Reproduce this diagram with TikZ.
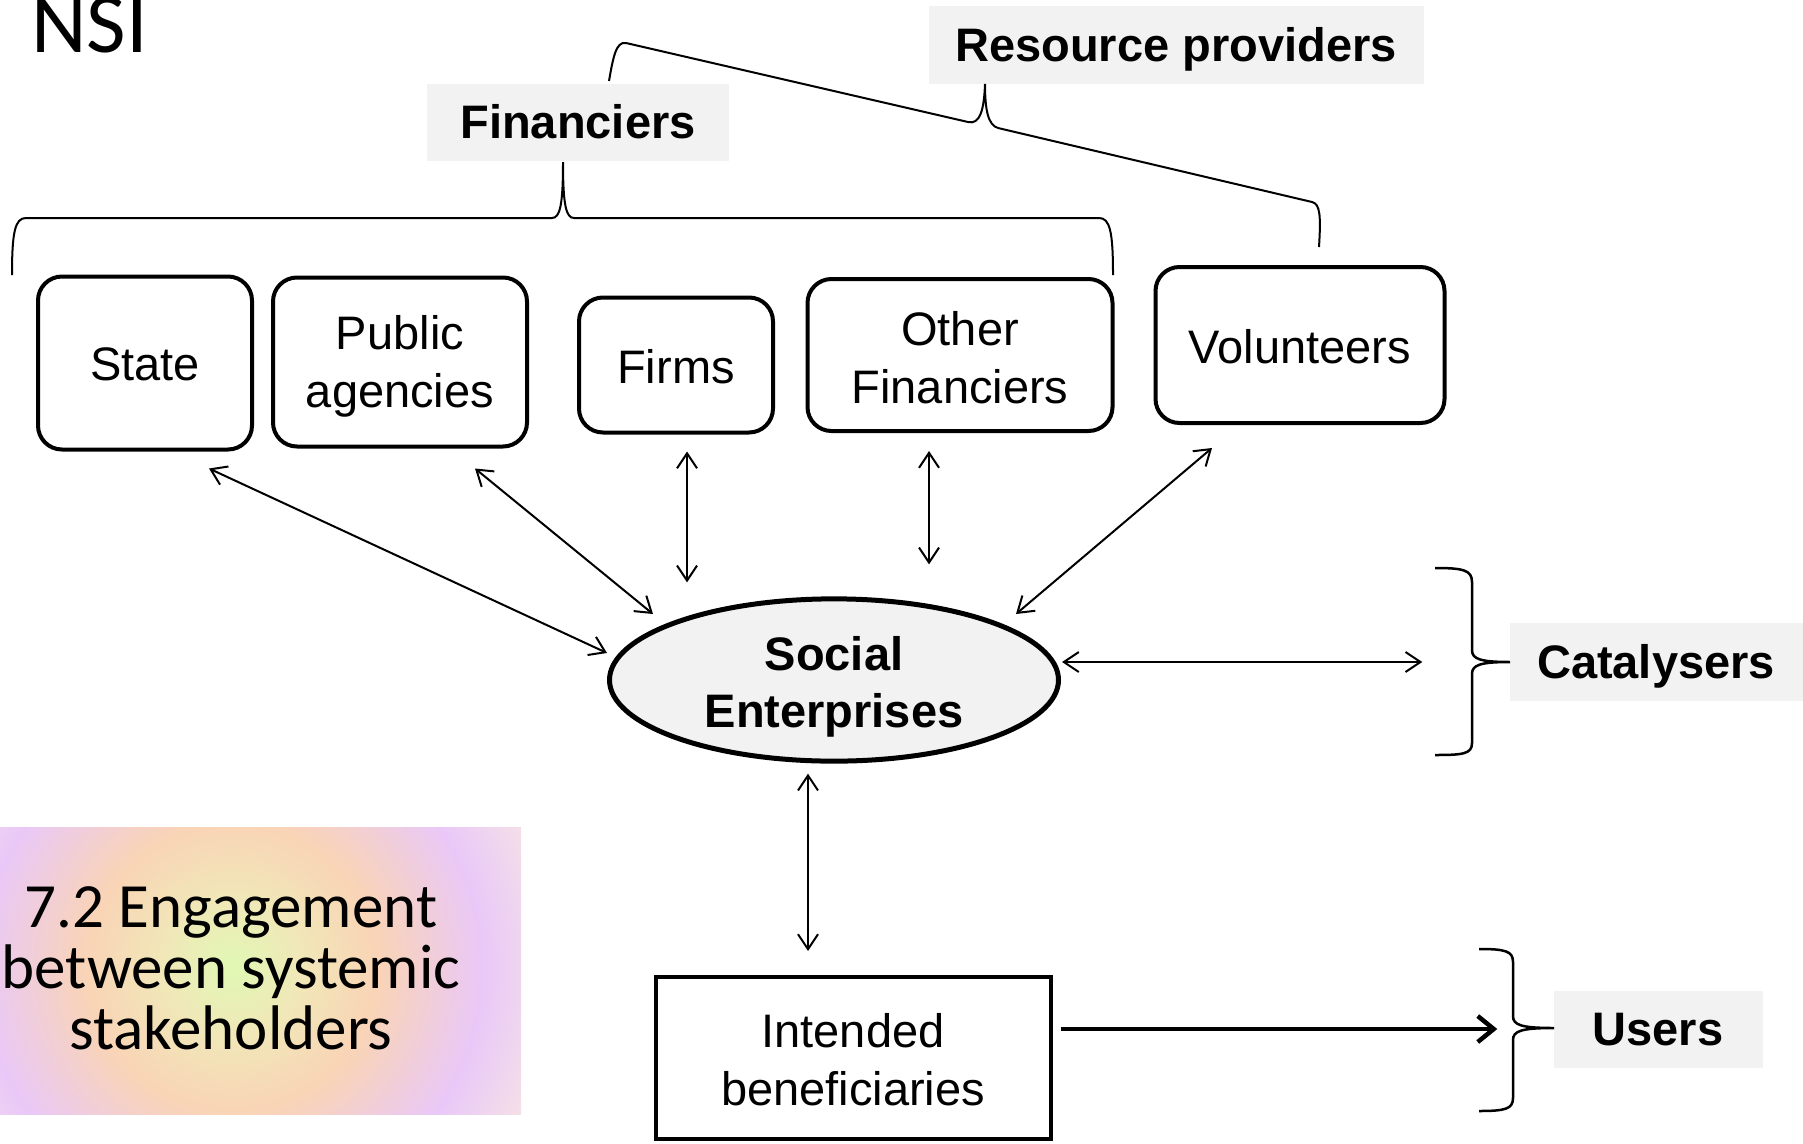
\documentclass[tikz,border=0pt]{standalone}
\usepackage{fontspec}
\setmainfont{Liberation Sans}
\newfontfamily\calibri{Carlito}
\usetikzlibrary{arrows.meta,shapes.geometric,calc}
\definecolor{lgray}{HTML}{F2F2F2}
\definecolor{gcenter}{HTML}{E0F8B4}
\definecolor{gyellow}{HTML}{F0E8B8}
\definecolor{gpeach}{HTML}{F9D4B6}
\definecolor{glav}{HTML}{E9C8F8}
\definecolor{gpink}{HTML}{F6E2E6}
\pgfdeclareradialshading{engshade}{\pgfpoint{0bp}{0bp}}{color(0bp)=(gcenter); color(5bp)=(gyellow); color(11bp)=(gpeach); color(19bp)=(glav); color(25bp)=(gpink); color(50bp)=(gpink)}
\tikzset{
  txt/.style={font=\fontsize{47}{58}\selectfont, align=center},
  rbox/.style={txt, draw, line width=4pt, rounded corners=24pt, inner sep=0pt},
  lbl/.style={fill=lgray, font=\bfseries\fontsize{47}{57}\selectfont, inner sep=0pt, text height=33pt, text depth=0pt},
  biarrow/.style={line width=2pt, {Straight Barb[length=15pt,width=20pt]}-{Straight Barb[length=15pt,width=20pt]}},
  thickarrow/.style={line width=4.5pt, -{Straight Barb[length=16pt,width=26pt]}},
  bracepath/.style={line width=2pt},
  bracepathb/.style={line width=2.5pt},
}
\begin{document}
\begin{tikzpicture}[x=1pt,y=-1pt]
\useasboundingbox (0,0) rectangle (1803,1143);

% title
\node[font=\calibri\fontsize{86}{94}\selectfont, anchor=base west, inner sep=0pt] (nsi) at (31,52) {NSI};

% gradient panel
\begin{scope}
\clip (0,827) rectangle (521,1114);
\shade[shading=engshade] (232,967) circle[radius=330pt];
\end{scope}
\node[font=\calibri\fontsize{63}{61}\selectfont, align=center, inner sep=0pt] (eng) at (231,968) {7.2 Engagement\\between systemic\\stakeholders};

% stakeholder boxes
\node[rbox, minimum width=214pt, minimum height=173pt] (state) at (145,363) {\rule{0pt}{36pt}State};
\node[rbox, minimum width=254pt, minimum height=169pt] (public) at (400,362) {\rule{0pt}{42pt}Public\\agencies};
\node[rbox, minimum width=194pt, minimum height=135pt] (firms) at (676,365) {\rule{0pt}{38pt}Firms};
\node[rbox, minimum width=305pt, minimum height=152pt] (other) at (960,355) {\rule{0pt}{40pt}Other\\Financiers};
\node[rbox, minimum width=289pt, minimum height=156pt] (vol) at (1300,345) {\rule{0pt}{38pt}Volunteers};

\node[ellipse, draw, fill=lgray, line width=5pt, minimum width=449pt, minimum height=161pt, inner sep=0pt, align=center, font=\bfseries\fontsize{47}{57}\selectfont] (se) at (834,680) {\rule{0pt}{48pt}Social\\Enterprises};

\node[draw, line width=4pt, minimum width=395pt, minimum height=162pt, txt, inner sep=0pt] (ib) at (853,1058) {\rule{0pt}{38pt}Intended\\beneficiaries};

% group labels
\node[lbl, minimum width=302pt, minimum height=77pt] (fin) at (578,122) {Financiers};
\node[lbl, minimum width=495pt, minimum height=78pt] (res) at (1176,45) {Resource providers};
\node[lbl, minimum width=293pt, minimum height=78pt] (cat) at (1656,662) {Catalysers};
\node[lbl, minimum width=209pt, minimum height=77pt] (users) at (1658,1029) {Users};

% braces
\draw[bracepath] (12,275) .. controls (12,232) and (15,218) .. (26,218) -- (552,218) .. controls (560,218) and (563,205) .. (563,162) .. controls (563,205) and (566,218) .. (574,218) -- (1099,218) .. controls (1110,218) and (1113,232) .. (1113,275);
\draw[bracepath] (609,81) .. controls (613,58) and (616,41) .. (626,43) -- (968,122) .. controls (980,125) and (984,110) .. (985,84) .. controls (985,110) and (988,125) .. (998,128) -- (1312,202) .. controls (1320,204) and (1321,215) .. (1319,247);
\draw[bracepathb] (1435,568) .. controls (1463,568) and (1472,570) .. (1472,582) -- (1472,650) .. controls (1472,659) and (1480,662) .. (1510,662) .. controls (1480,662) and (1472,665) .. (1472,674) -- (1472,743) .. controls (1472,754) and (1463,755) .. (1435,755);
\draw[bracepathb] (1479,949) .. controls (1505,949) and (1513,951) .. (1513,962) -- (1513,1016) .. controls (1513,1025) and (1521,1028) .. (1554,1028) .. controls (1521,1028) and (1513,1031) .. (1513,1040) -- (1513,1098) .. controls (1513,1109) and (1505,1111) .. (1479,1111);

% connectors
\draw[biarrow] ($(state.south)+(64,17)$) -- ($(se.west)+(0,-27)$);
\draw[biarrow] ($(public.south)+(75,20)$) -- ($(se.center)+(-181,-66)$);
\draw[biarrow] ($(firms.south)+(11,17)$) -- ($(se.north)+(-147,-14)$);
\draw[biarrow] ($(other.south)+(-31,18)$) -- ($(se.north)+(95,-32)$);
\draw[biarrow] ($(vol.south)+(-88,23)$) -- ($(se.center)+(182,-66)$);
\draw[biarrow] ($(se.east)+(1,-18)$) -- ($(cat.west)+(-87,0)$);
\draw[biarrow] ($(se.south)+(-26,10)$) -- ($(ib.north)+(-45,-24)$);
\draw[thickarrow] ($(ib.east)+(8,-29)$) -- ($(users.west)+(-56,0)$);
\end{tikzpicture}
\end{document}
